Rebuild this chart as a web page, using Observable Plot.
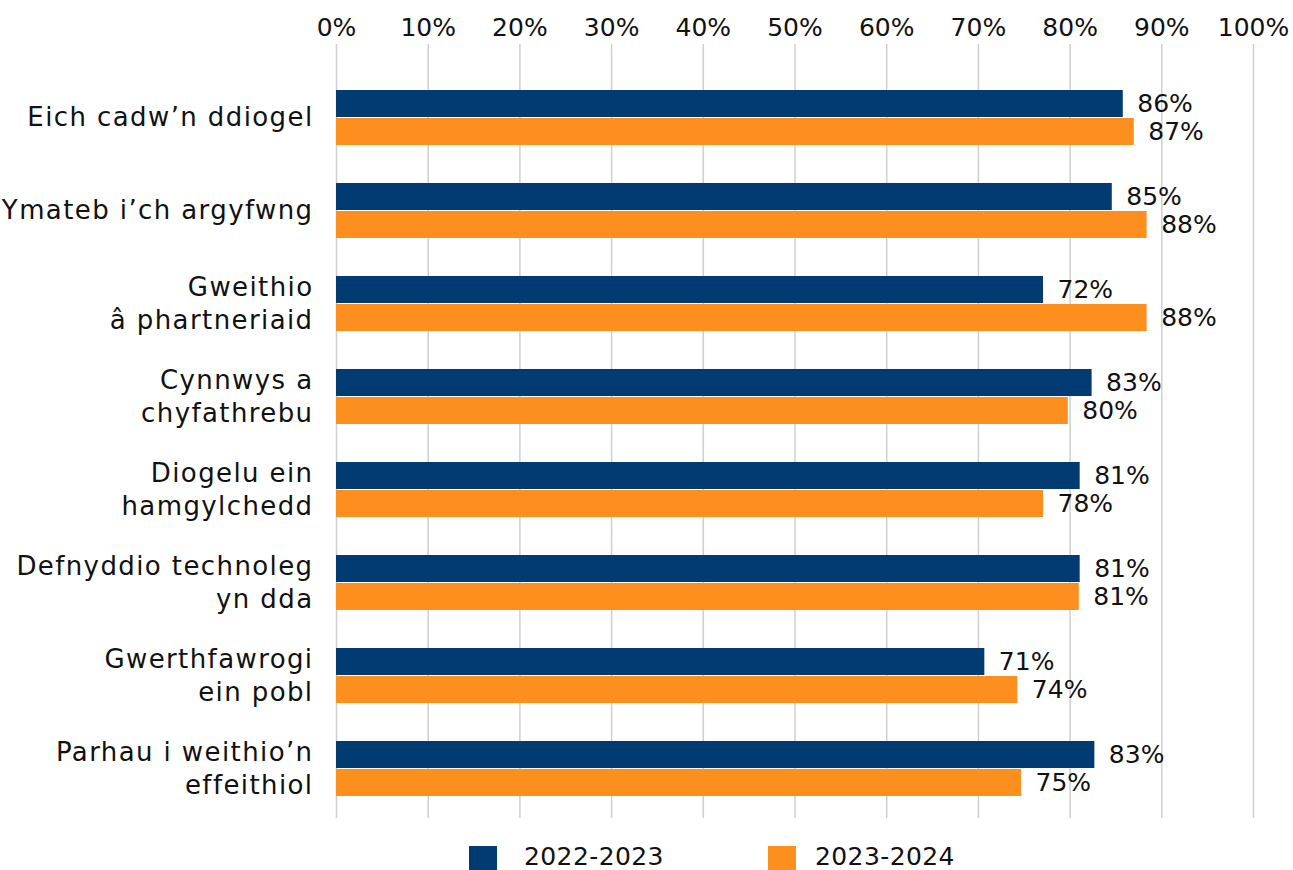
<!DOCTYPE html>
<html><head><meta charset="utf-8">
<script src="https://cdn.jsdelivr.net/npm/d3@7"></script>
<script src="https://cdn.jsdelivr.net/npm/@observablehq/plot@0.6"></script>
<style>
body{margin:0;background:#fff;font-family:"DejaVu Sans",sans-serif;}
#chart{position:relative;width:1293px;height:870px;overflow:hidden;}
#chart svg{position:absolute;left:0;top:0;}
g[aria-label="y-axis tick label"] text{letter-spacing:1.4px;}
.sw{position:absolute;width:28px;height:28px;top:846px;}
.lt{position:absolute;top:845px;font-size:25px;line-height:24px;color:#111;letter-spacing:0.4px;}
</style></head><body><div id="chart"></div>
<script>
const categories = ["Eich cadw’n ddiogel","Ymateb i’ch argyfwng","Gweithio â phartneriaid","Cynnwys a chyfathrebu","Diogelu ein hamgylchedd","Defnyddio technoleg yn dda","Gwerthfawrogi ein pobl","Parhau i weithio’n effeithiol"];
const categoryLabels = ["Eich cadw’n ddiogel","Ymateb i’ch argyfwng","Gweithio\nâ phartneriaid","Cynnwys a\nchyfathrebu","Diogelu ein\nhamgylchedd","Defnyddio technoleg\nyn dda","Gwerthfawrogi\nein pobl","Parhau i weithio’n\neffeithiol"];
const series = ["2022-2023","2023-2024"];
const colors = ["#023b72","#fd8f1e"];
const bars2022 = [85.8,84.6,77.1,82.4,81.1,81.1,70.7,82.7];
const labels2022 = [86,85,72,83,81,81,71,83];
const bars2023 = [87.0,88.4,88.4,79.8,77.1,81.0,74.3,74.7];
const labels2023 = [87,88,88,80,78,81,74,75];
const xTicks = [0,10,20,30,40,50,60,70,80,90,100];

const rows0 = categories.map((c,i)=>({cat:c, value:bars2022[i], label:labels2022[i]+"%"}));
const rows1 = categories.map((c,i)=>({cat:c, value:bars2023[i], label:labels2023[i]+"%"}));

const plot = Plot.plot({
  width:1293, height:830, marginTop:44, marginBottom:12, marginLeft:336, marginRight:40,
  style:{fontFamily:"DejaVu Sans", fontSize:"25px", color:"#111", background:"#fff"},
  x:{domain:[0,100], label:null},
  y:{domain:categories, range:[69,816], paddingInner:0.41, paddingOuter:0.205, label:null},
  marks:[
    Plot.ruleX(xTicks, {stroke:"#cfcfcf", strokeWidth:1.5}),
    Plot.barX(rows0, {x:"value", y:"cat", fill:colors[0], insetBottom:28}),
    Plot.barX(rows1, {x:"value", y:"cat", fill:colors[1], insetTop:28}),
    Plot.text(rows0, {x:"value", y:"cat", text:"label", dx:14, dy:-14, textAnchor:"start", fontSize:25, fill:"#111"}),
    Plot.text(rows1, {x:"value", y:"cat", text:"label", dx:14, dy:14, textAnchor:"start", fontSize:25, fill:"#111"}),
    Plot.axisX({anchor:"top", ticks:xTicks, tickFormat:d=>d+"%", tickSize:0, tickPadding:9, fontSize:25, label:null}),
    Plot.axisY({anchor:"left", tickSize:0, tickPadding:23, tickFormat:d=>categoryLabels[categories.indexOf(d)], lineHeight:1.26, fontSize:26, dy:-2, label:null})
  ]
});
const chart = document.getElementById("chart");
chart.appendChild(plot);
const legendPos = [{sw:469, tx:524},{sw:768, tx:815}];
series.forEach((s,i)=>{
  const sw = document.createElement("div"); sw.className="sw"; sw.style.left=legendPos[i].sw+"px"; sw.style.background=colors[i]; chart.appendChild(sw);
  const t = document.createElement("div"); t.className="lt"; t.style.left=legendPos[i].tx+"px"; t.textContent=s; chart.appendChild(t);
});
</script></body></html>
